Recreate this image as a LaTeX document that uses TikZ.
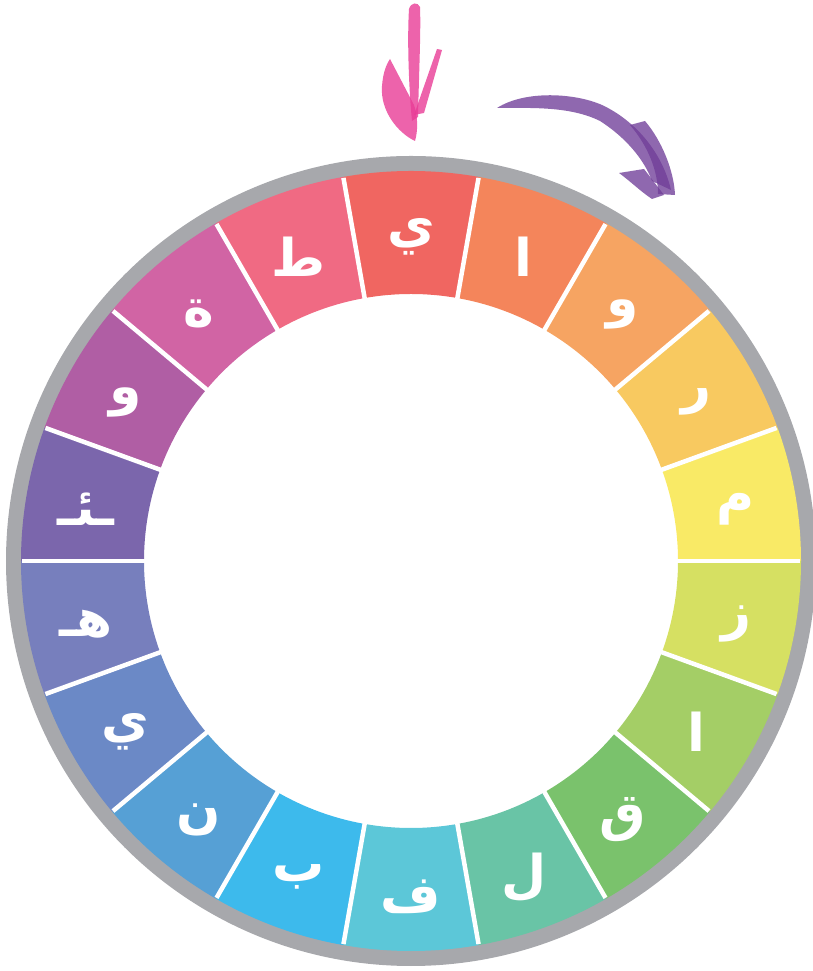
\documentclass[tikz,border=0pt]{standalone}
\usepackage{fontspec}
\usepackage{tikz}
\newfontfamily\arabicfont[Script=Arabic]{DejaVu Sans}
\TeXXeTstate=1
\definecolor{CR}{RGB}{167,168,172}
\definecolor{CP}{RGB}{232,60,150}
\definecolor{CV}{RGB}{112,62,152}
\definecolor{S0}{RGB}{240,102,97}
\definecolor{S1}{RGB}{244,133,91}
\definecolor{S2}{RGB}{246,164,98}
\definecolor{S3}{RGB}{248,201,96}
\definecolor{S4}{RGB}{249,234,102}
\definecolor{S5}{RGB}{214,224,98}
\definecolor{S6}{RGB}{164,206,102}
\definecolor{S7}{RGB}{122,194,108}
\definecolor{S8}{RGB}{105,196,166}
\definecolor{S9}{RGB}{92,199,216}
\definecolor{S10}{RGB}{61,186,236}
\definecolor{S11}{RGB}{86,160,213}
\definecolor{S12}{RGB}{107,137,198}
\definecolor{S13}{RGB}{119,127,189}
\definecolor{S14}{RGB}{123,102,172}
\definecolor{S15}{RGB}{176,94,164}
\definecolor{S16}{RGB}{209,100,164}
\definecolor{S17}{RGB}{240,106,131}

\begin{document}
\begin{tikzpicture}[x=1pt, y=1pt,
        rimline/.style={draw=CR, line width=16pt},
        gap/.style={draw=white, line width=4.5pt},
        letter/.style={text=white, inner sep=0pt, yshift=-6pt, font=\arabicfont\bfseries\fontsize{52}{56}\selectfont},
        brush/.style={fill=CP, fill opacity=0.8},
        swoosh/.style={fill=CV, fill opacity=0.78}]
    \useasboundingbox (0,0) rectangle (812,971);
    \begin{scope}[shift={(411,410)}]
        \draw[rimline] (0,0) circle[radius=397pt];
        \foreach \k in {0,...,17}
            \fill[S\k] (80-20*\k:267pt) arc[start angle=80-20*\k, delta angle=20, radius=267pt]
                -- (100-20*\k:390pt) arc[start angle=100-20*\k, delta angle=-20, radius=390pt] -- cycle;
        \foreach \b in {0,20,...,340}
            \draw[gap] (\b:265pt) -- (\b:389pt);
        \foreach \k/\ltr in {0/ي, 1/ا, 2/و, 3/ر, 4/م, 5/ز, 6/ا, 7/ق, 8/ل, 9/ف,
                10/ب, 11/ن, 12/ي, 13/هـ, 14/ـئـ, 15/و, 16/ة, 17/ط}
            \node[letter] (l\k) at (90-20*\k:330pt) {\beginR\ltr\endR};
    \end{scope}
    % pink arrow
    \fill[brush] (409,962) .. controls (407,930) and (409,880) .. (412,850) -- (418,854)
        .. controls (419,900) and (421,940) .. (420,964) .. controls (418,969) and (411,969) .. (409,962) -- cycle;
    \fill[brush] (390,912) -- (414,866) .. controls (418,855) and (418,840) .. (415,830)
        .. controls (398,838) and (380,860) .. (382,885) .. controls (383,898) and (386,906) .. (390,912) -- cycle;
    \fill[brush] (437,922) -- (442,921) -- (424,858) -- (414,856) -- cycle;
    % purple arrow
    \fill[swoosh] (497,863) .. controls (525,881) and (575,878) .. (602,866)
        .. controls (634,851) and (662,820) .. (671,781) -- (652,790)
        .. controls (644,812) and (625,834) .. (600,850) .. controls (570,865) and (530,863) .. (497,863) -- cycle;
    \fill[swoosh] (630,846) -- (645,850) .. controls (662,830) and (674,800) .. (675,776) -- (658,777)
        .. controls (658,800) and (648,825) .. (630,846) -- cycle;
    \fill[swoosh] (619,798) -- (644,802) -- (664,776) -- (652,772) .. controls (640,780) and (630,790) .. (619,798) -- cycle;
\end{tikzpicture}
\end{document}
